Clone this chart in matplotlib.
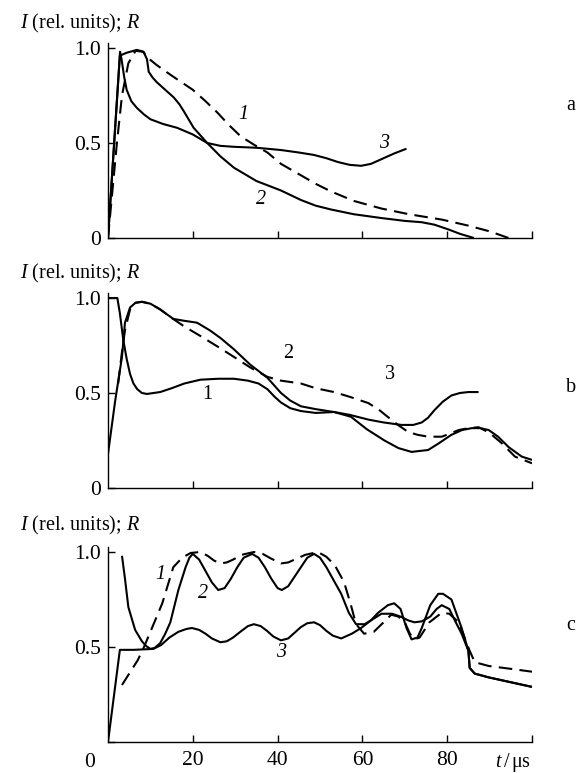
import matplotlib
matplotlib.use("Agg")
import matplotlib.pyplot as plt

plt.rcParams['font.family'] = ['Liberation Serif', 'DejaVu Serif']
plt.rcParams['mathtext.fontset'] = 'custom'
plt.rcParams['mathtext.rm'] = 'Liberation Serif'
plt.rcParams['mathtext.it'] = 'Liberation Serif:italic'

# ---- panel a ----
a1_t = [0, 2.1, 3.3, 4.8, 6.5, 8.3, 9.3, 11.5, 15, 20, 23, 25.8, 28.5, 31.3, 34.5, 37.6, 40.8, 45.5,
        49, 52.6, 58, 64.5, 71, 78.7, 85, 90, 94.5]
a1_v = [0, 0.5, 0.75, 0.92, 0.985, 0.98, 0.95, 0.91, 0.855, 0.78, 0.72, 0.66, 0.595, 0.535, 0.49, 0.45, 0.39, 0.33,
        0.285, 0.245, 0.195, 0.155, 0.125, 0.097, 0.065, 0.035, 0]

a2_t = [0, 2.8, 4.4, 6.8, 8.4, 9.2, 9.6, 10.5, 11.5, 13.5, 15.5, 16.8, 17.8, 19, 20.2, 21.8, 23.4, 26.5, 29.7,
        35, 40.8, 45.5, 49, 52.6, 58, 64.5, 70, 74, 77, 80.3, 83, 86.3]
a2_v = [0, 0.96, 0.975, 0.99, 0.98, 0.94, 0.875, 0.845, 0.82, 0.78, 0.74, 0.705, 0.67, 0.625, 0.58, 0.54, 0.5, 0.43, 0.37,
        0.3, 0.25, 0.2, 0.17, 0.15, 0.125, 0.105, 0.09, 0.083, 0.07, 0.045, 0.022, 0]

a3_t = [0, 2.84, 3.2, 3.8, 4.4, 5.5, 6.8, 8.5, 10, 13, 16.3, 20, 23.4, 26.5, 29.7, 35, 40.8,
        45, 48.6, 51.5, 54.2, 57, 59.7, 62, 64.5, 67.5, 70.4]
a3_v = [0, 0.98, 0.94, 0.85, 0.78, 0.72, 0.685, 0.65, 0.625, 0.6, 0.58, 0.545, 0.5, 0.485, 0.48, 0.475, 0.463,
        0.45, 0.437, 0.42, 0.40, 0.385, 0.38, 0.39, 0.415, 0.445, 0.47]

# ---- panel b ----
b1_t = [0, 2.2, 2.8, 3.6, 4.4, 5.2, 6.0, 6.9, 8.0, 9.2, 12.3, 15, 18, 21.8, 26, 29.7, 33,
        35.5, 37.6, 39.3, 40.8, 43, 45.5, 49, 53.3, 57, 61.4, 65, 69.2, 72, 74, 75.5, 77, 79, 81, 83, 85, 87.4]
b1_v = [1.0, 1.0, 0.92, 0.78, 0.68, 0.6, 0.55, 0.52, 0.5, 0.495, 0.505, 0.525, 0.55, 0.57, 0.575, 0.575, 0.565,
        0.55, 0.52, 0.48, 0.45, 0.42, 0.405, 0.395, 0.40, 0.385, 0.36, 0.345, 0.332, 0.332, 0.345, 0.37, 0.41, 0.455, 0.487,
        0.5, 0.505, 0.505]

b2_t = [0, 1.7, 3.3, 4.0, 5.2, 6.5, 8.0, 10, 12.3, 15.4, 18, 21, 24, 26.5, 29.7, 33.5, 37.6,
        40.8, 43, 45.5, 49, 53.3, 57.3, 61, 65.2, 68.5, 71.6, 75.5, 78, 81, 83.5, 85.8, 87.8, 89.8,
        92, 94.5, 97.6, 100]
b2_v = [0.18, 0.46, 0.69, 0.87, 0.95, 0.975, 0.98, 0.97, 0.94, 0.89, 0.88, 0.87, 0.83, 0.79, 0.73, 0.65, 0.58,
        0.50, 0.46, 0.43, 0.415, 0.40, 0.375, 0.31, 0.25, 0.21, 0.19, 0.2, 0.235, 0.28, 0.305, 0.315, 0.315, 0.305,
        0.27, 0.215, 0.165, 0.148]

b3_t = [2.4, 3.2, 4.0, 5.2, 6.5, 8.0, 10, 12.3, 14.7, 18, 21.8, 25.8, 29.7, 33.5, 37.6, 40.8,
        45.5, 49, 53.3, 57, 61.4, 64, 66, 68.5, 70.8, 73, 75.5, 78.7, 80.5, 82.7, 85, 87.4, 90,
        92.9, 96, 100]
b3_v = [0.55, 0.7, 0.83, 0.94, 0.975, 0.98, 0.97, 0.94, 0.9, 0.85, 0.8, 0.745, 0.69, 0.635, 0.585, 0.565,
        0.55, 0.525, 0.505, 0.48, 0.447, 0.41, 0.374, 0.33, 0.295, 0.28, 0.27, 0.27, 0.285, 0.305, 0.315, 0.32, 0.29,
        0.235, 0.165, 0.13]

# ---- panel c ----
c1_t = [3.3, 5, 7, 8.3, 10, 12.8, 15.4, 17.5, 19.5, 21.8, 23.5, 25, 26.5, 28, 29.5, 31.5, 34.4, 36.5,
        38.5, 40.8, 42.5, 44.5, 46.5, 49.5, 51.5, 53.5, 55.7, 57.3, 58.5, 60.4, 62.7, 65, 66.8, 68.5,
        70, 71.2, 72.3, 73.5, 75.8, 78.7, 80.5, 82.7, 85.3, 86.5, 89.8, 95, 100]
c1_v = [0.3, 0.36, 0.43, 0.49, 0.58, 0.73, 0.92, 0.97, 0.995, 1.0, 0.98, 0.955, 0.94, 0.945, 0.96, 0.985, 1.0, 0.99,
        0.965, 0.94, 0.945, 0.965, 0.985, 1.0, 0.975, 0.93, 0.84, 0.72, 0.62, 0.57, 0.58, 0.63, 0.67, 0.66,
        0.63, 0.57, 0.54, 0.55, 0.63, 0.68, 0.675, 0.63, 0.48, 0.42, 0.40, 0.385, 0.37]

c2_t = [3.3, 4.0, 4.8, 5.6, 6.4, 7.2, 8, 9, 10, 11, 12.3, 13.5, 14.7, 16.6, 18.3, 19.2, 20, 21.5,
        23, 24.5, 26, 27.5, 29, 30.5, 32, 34, 35.5, 37, 38.5, 40, 41, 42.5, 44, 45.5, 47, 48.6,
        50, 51.5, 53, 55, 56.8, 58.5, 60.5, 62, 63.7, 66, 67.5, 69, 70.4, 71.6, 73, 74, 76, 77.9,
        79, 81, 83.4, 85, 85.3, 86.5, 89.8, 100]
c2_v = [0.98, 0.86, 0.71, 0.65, 0.59, 0.56, 0.53, 0.505, 0.49, 0.495, 0.52, 0.57, 0.63, 0.8, 0.92, 0.97, 0.99, 0.96,
        0.9, 0.84, 0.8, 0.81, 0.86, 0.92, 0.97, 0.99, 0.97, 0.92, 0.86, 0.81, 0.8, 0.82, 0.87, 0.92, 0.97, 0.99,
        0.97, 0.92, 0.86, 0.78, 0.68, 0.62, 0.62, 0.64, 0.68, 0.72, 0.73, 0.7, 0.6, 0.54, 0.55, 0.6, 0.72, 0.78,
        0.78, 0.75, 0.6, 0.48, 0.39, 0.36, 0.34, 0.29]

c3_t = [0, 2.8, 6, 10.7, 12.5, 14.5, 16.6, 18.5, 19.8, 21.5, 23, 24.5, 26.5, 28, 29.5, 31.5, 33, 34.4,
        36, 37.5, 39, 40.8, 42.5, 44, 45.5, 47, 48.6, 50, 51.5, 53, 55, 57.5, 59.7, 62, 64.5, 67,
        69, 70.8, 72.3, 74, 76, 77.5, 78.7, 80.5, 81.8, 83.4, 85, 85.3, 86.5, 89.8, 100]
c3_v = [0, 0.485, 0.485, 0.49, 0.51, 0.55, 0.58, 0.595, 0.6, 0.59, 0.57, 0.545, 0.525, 0.53, 0.55, 0.585, 0.61, 0.62,
        0.61, 0.585, 0.555, 0.535, 0.545, 0.575, 0.605, 0.625, 0.63, 0.615, 0.585, 0.56, 0.545, 0.57, 0.6, 0.64, 0.675, 0.675,
        0.66, 0.64, 0.63, 0.635, 0.66, 0.7, 0.72, 0.7, 0.64, 0.57, 0.48, 0.39, 0.36, 0.34, 0.29]

x_ticks = [20, 40, 60, 80, 100]
c_xticklabels = ['20', '40', '60', '80', '']
y_ticks = [0, 0.5, 1.0]

W, H = 579, 773
fig = plt.figure(figsize=(W / 100, H / 100), dpi=100)

def px_axes(bottom_px):
    left, right, top1 = 108, 532, 190 * 1.026
    return fig.add_axes([left / W, 1 - bottom_px / H, (right - left) / W, top1 / H])

dash = (0, (6.5, 3.5))
LW = 1.5
FS = 14.5

def style(ax):
    ax.set_xlim(0, 100)
    ax.set_ylim(0, 1.026)
    for s in ['top', 'right']:
        ax.spines[s].set_visible(False)
    for s in ['left', 'bottom']:
        ax.spines[s].set_linewidth(1.0)
    ax.set_xticks(x_ticks)
    ax.set_yticks(y_ticks)
    ax.tick_params(direction='in', length=5, width=1.0, labelsize=FS + 1)
    ax.tick_params(axis='y', pad=5)
    ax.tick_params(axis='x', pad=6.5)
    ax.patch.set_visible(False)

panels = [
    (238, 28, 'a', 105, [(a1_t, a1_v, True), (a2_t, a2_v, False), (a3_t, a3_v, False)],
     [('1', 32, 0.65), ('2', 36, 0.2), ('3', 65.2, 0.5)], 'italic'),
    (488, 278, 'b', 388, [(b3_t, b3_v, True), (b1_t, b1_v, False), (b2_t, b2_v, False)],
     [('2', 42.4, 0.71), ('3', 66.4, 0.595), ('1', 23.5, 0.49)], 'normal'),
    (742, 530, 'c', 625, [(c1_t, c1_v, True), (c2_t, c2_v, False), (c3_t, c3_v, False)],
     [('1', 12.3, 0.88), ('2', 22.5, 0.78), ('3', 40.8, 0.47)], 'italic'),
]

for i, (bottom, lab_y, letter, letter_y, series, labels, fstyle) in enumerate(panels):
    ax = px_axes(bottom)
    style(ax)
    for t, v, dashed in series:
        ax.plot(t, v, color='black', lw=LW, ls=dash if dashed else '-',
                solid_capstyle='butt', dash_capstyle='butt', solid_joinstyle='round')
    for txt, x, y in labels:
        ax.text(x, y, txt, fontsize=FS, fontstyle=fstyle, ha='center', va='center')
    if i < 2:
        ax.set_xticklabels([''] * len(x_ticks))
        ax.set_yticklabels(['0', '0.5', '1.0'])
    else:
        ax.set_xticklabels(c_xticklabels)
        ax.set_yticklabels(['', '0.5', '1.0'])
    fig.text(20 / W, 1 - lab_y / H, r'$I$ (rel. units); $R$', fontsize=FS,
             ha='left', va='baseline')
    fig.text(571 / W, 1 - letter_y / H, letter, fontsize=FS, ha='center', va='center')

fig.text(90 / W, 1 - 767 / H, '0', fontsize=FS + 1, ha='center', va='baseline')
fig.text(531 / W, 1 - 767 / H, r'$t\,$/$\,$μs', fontsize=FS, ha='right', va='baseline')

fig.savefig('out.png', dpi=100)
